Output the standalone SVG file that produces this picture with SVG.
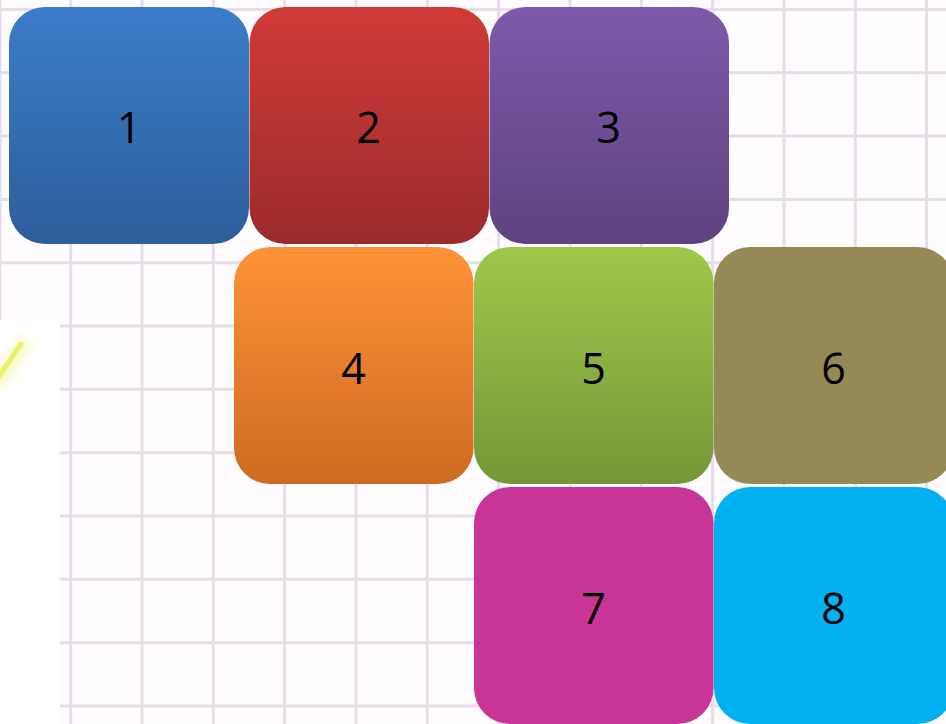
<svg xmlns="http://www.w3.org/2000/svg" width="946" height="724" viewBox="0 0 946 724">
<defs>
<linearGradient id="gBlue" x1="0" y1="0" x2="0" y2="1"><stop offset="0" stop-color="#3b7dca"/><stop offset="1" stop-color="#2c5e9a"/></linearGradient>
<linearGradient id="gRed" x1="0" y1="0" x2="0" y2="1"><stop offset="0" stop-color="#d03b38"/><stop offset="1" stop-color="#9b2b2b"/></linearGradient>
<linearGradient id="gPurple" x1="0" y1="0" x2="0" y2="1"><stop offset="0" stop-color="#7f59a9"/><stop offset="1" stop-color="#5f4281"/></linearGradient>
<linearGradient id="gOrange" x1="0" y1="0" x2="0" y2="1"><stop offset="0" stop-color="#fe9338"/><stop offset="1" stop-color="#cd6b20"/></linearGradient>
<linearGradient id="gGreen" x1="0" y1="0" x2="0" y2="1"><stop offset="0" stop-color="#a0c74a"/><stop offset="1" stop-color="#759737"/></linearGradient>
<filter id="glow" x="-1" y="-1" width="3" height="3"><feGaussianBlur stdDeviation="4"/></filter>
<filter id="soft" x="-0.1" y="-0.1" width="1.2" height="1.2"><feGaussianBlur stdDeviation="0.6"/></filter>
</defs>
<style>
.grid{stroke:#e8dbec;stroke-width:3;fill:none}
.box{rx:36px;ry:36px}
.lbl{font-family:"Open Sans","Noto Sans","DejaVu Sans",sans-serif;font-size:43px;fill:#000;text-anchor:middle}
</style>
<rect x="0" y="0" width="946" height="724" fill="#fefcfe"/>
<g id="grid" filter="url(#soft)">
<path class="grid" d="M0,0V724M70.7,0V724M142,0V724M213.3,0V724M284.6,0V724M356,0V724M427.3,0V724M498.6,0V724M570,0V724M641.3,0V724M712.6,0V724M784,0V724M855.3,0V724M926.6,0V724"/>
<path class="grid" d="M0,9.4H946M0,72.7H946M0,136H946M0,199.4H946M0,262.7H946M0,326H946M0,389.3H946M0,452.7H946M0,516H946M0,579.3H946M0,642.7H946M0,706H946"/>
</g>
<rect x="0" y="320.5" width="60" height="404" fill="#ffffff"/>
<g id="mark">
<line x1="-4" y1="384" x2="26" y2="340" stroke="#f6f8b0" stroke-width="16" filter="url(#glow)" opacity="0.7"/>
<line x1="-2" y1="378" x2="21" y2="344" stroke="#e6ef5c" stroke-width="5" stroke-linecap="round" opacity="0.85"/>
</g>
<g id="connectors"/>
<g id="node1"><rect class="box" x="9" y="7" width="240" height="237" fill="url(#gBlue)"/><text class="lbl" x="129" y="143">1</text></g>
<g id="node2"><rect class="box" x="249.5" y="7" width="239.5" height="237" fill="url(#gRed)"/><text class="lbl" x="368.5" y="143">2</text></g>
<g id="node3"><rect class="box" x="489.5" y="7" width="239.5" height="237" fill="url(#gPurple)"/><text class="lbl" x="608.5" y="143">3</text></g>
<g id="node4"><rect class="box" x="234" y="247" width="239.5" height="237" fill="url(#gOrange)"/><text class="lbl" x="353.5" y="383.5">4</text></g>
<g id="node5"><rect class="box" x="474" y="247" width="239.5" height="237" fill="url(#gGreen)"/><text class="lbl" x="593.5" y="383.5">5</text></g>
<g id="node6"><rect class="box" x="714" y="247" width="239.5" height="237" fill="#958a55"/><text class="lbl" x="833.5" y="383.5">6</text></g>
<g id="node7"><rect class="box" x="474" y="487" width="239.5" height="237" fill="#c93596"/><text class="lbl" x="593.5" y="623.5">7</text></g>
<g id="node8"><rect class="box" x="714" y="487" width="239.5" height="237" fill="#03b0f0"/><text class="lbl" x="833.5" y="623.5">8</text></g>
</svg>
